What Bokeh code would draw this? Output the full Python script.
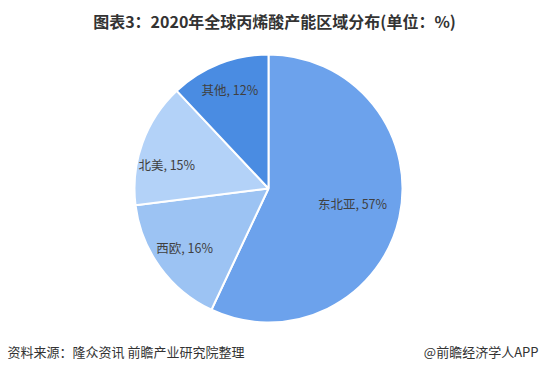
import math
from bokeh.plotting import figure
from bokeh.models import Range1d, ColumnDataSource
from bokeh.core.properties import value
from bokeh.embed import file_html
from bokeh.resources import INLINE

regions = ["东北亚", "西欧", "北美", "其他"]
shares = [57, 16, 15, 12]
colors = ["#6ca2ec", "#9cc3f3", "#b3d2f8", "#4a8ce2"]
label_r = [84, 100, 105, 105]
label_shift = [(2, 3), (-3, 0), (-3, -12), (0, 1)]

title = "图表3：2020年全球丙烯酸产能区域分布(单位：%)"
source_note = "资料来源：隆众资讯 前瞻产业研究院整理"
credit = "@前瞻经济学人APP"

W, H = 539, 365
CX, CY, R = 268, 177, 134
FONT = "Noto Sans CJK SC"

p = figure(width=W, height=H, output_backend="svg", toolbar_location=None,
           x_range=Range1d(0, W), y_range=Range1d(0, H), min_border=0)
p.axis.visible = False
p.grid.visible = False
p.outline_line_color = None
p.background_fill_color = "white"
p.border_fill_color = "white"

total = sum(shares)
starts, ends, lx, ly, labels = [], [], [], [], []
cum = 0.0
for name, s, lr, (sx, sy) in zip(regions, shares, label_r, label_shift):
    a0 = math.pi / 2 - 2 * math.pi * cum / total
    a1 = math.pi / 2 - 2 * math.pi * (cum + s) / total
    starts.append(a0)
    ends.append(a1)
    mid = (a0 + a1) / 2
    lx.append(CX + lr * math.cos(mid) + sx)
    ly.append(CY + lr * math.sin(mid) + sy)
    labels.append(f"{name}, {s}%")
    cum += s

src = ColumnDataSource(dict(start=starts, end=ends, color=colors, lx=lx, ly=ly, label=labels))
p.wedge(x=CX, y=CY, radius=R, start_angle="start", end_angle="end", direction="clock",
        fill_color="color", line_color="white", line_width=2, source=src)
p.text(x="lx", y="ly", text="label", source=src, text_font=value(FONT), text_font_size="12.5px",
       text_color="#404040", text_align="center", text_baseline="middle")

p.text(x=[274], y=[345], text=[title], text_font=value(FONT), text_font_size="16px",
       text_font_style="bold", text_color="#333333", text_align="center", text_baseline="middle")
p.text(x=[7], y=[14], text=[source_note], text_font=value(FONT), text_font_size="13px",
       text_color="#333333", text_align="left", text_baseline="middle")
p.text(x=[538], y=[14], text=[credit], text_font=value(FONT), text_font_size="13px",
       text_color="#333333", text_align="right", text_baseline="middle")

open("out.html", "w").write(file_html(p, INLINE))
